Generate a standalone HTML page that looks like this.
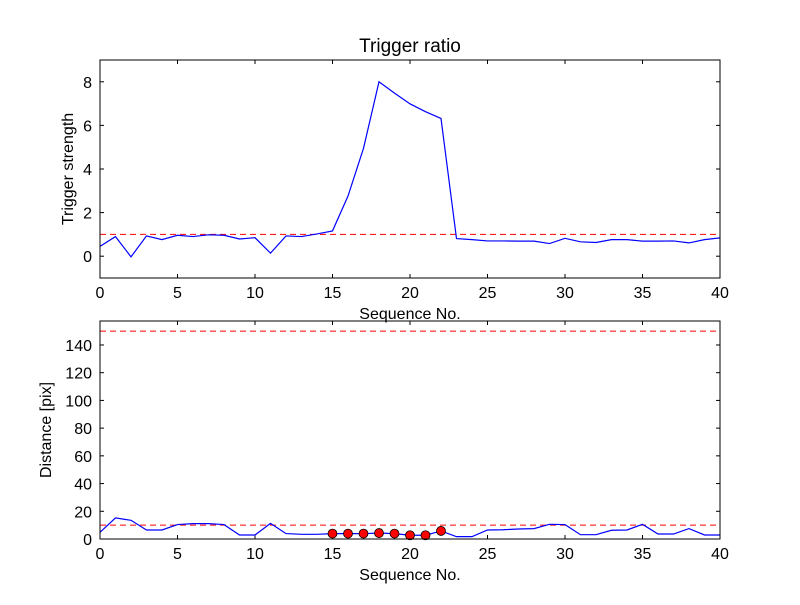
<!DOCTYPE html>
<html><head><meta charset="utf-8"><style>
body{margin:0;background:#fff;}
svg text{font-family:"Liberation Sans",sans-serif;}
</style></head><body>
<svg id="fig" width="800" height="600" viewBox="0 0 800 600">
<rect width="800" height="600" fill="#fff"/>
<g id="top"></g>
<g id="bot"></g>
</svg>
<script>
const seq = Array.from({length:41},(_, i)=>i);
const triggerStrength = [0.45,0.9,-0.03,0.93,0.76,0.96,0.9,0.98,0.96,0.79,0.85,0.14,0.93,0.9,1.02,1.16,2.76,4.95,8.0,7.48,6.99,6.63,6.32,0.81,0.76,0.7,0.7,0.69,0.69,0.58,0.82,0.66,0.63,0.76,0.76,0.69,0.69,0.7,0.61,0.76,0.84];
const triggerThreshold = [1];
const distance = [4.8,15.2,13.5,6.5,6.5,10.4,11.1,11.1,10.4,2.9,2.9,11.3,3.9,3.4,3.4,3.9,3.9,3.9,4.3,3.9,2.7,2.7,5.8,1.7,1.7,6.5,6.7,7.2,7.5,10.6,10.4,3.1,3.1,6.3,6.5,10.6,3.6,3.6,7.5,2.9,2.9];
const distThresholds = [150,10];
const triggeredIdx = [15,16,17,18,19,20,21,22];
const xTicks = [0,5,10,15,20,25,30,35,40];
const yTicksTop = [0,2,4,6,8];
const yTicksBot = [0,20,40,60,80,100,120,140];

const NS="http://www.w3.org/2000/svg";
function mk(parent,tag,attrs,name){const e=document.createElementNS(NS,tag);for(const k in attrs)e.setAttribute(k,attrs[k]);


parent.appendChild(e);return e;}

function axes(g,box,ymin,ymax,yTicks,ylabel,title){
  const [L,T,R,B]=box;
  const sx=v=>L+(v-0)/(40-0)*(R-L);
  const sy=v=>B-(v-ymin)/(ymax-ymin)*(B-T);
  for(const t of xTicks){const x=sx(t);
    mk(g,'line',{x1:x,x2:x,y1:B,y2:B-4,stroke:'#000'},'x-tick');
    mk(g,'line',{x1:x,x2:x,y1:T,y2:T+4,stroke:'#000'},'x-tick');
    const tx=mk(g,'text',{x:x,y:B+20,'text-anchor':'middle','font-size':16},'x-tick-label');tx.textContent=t;}
  for(const t of yTicks){const y=sy(t);
    mk(g,'line',{x1:L,x2:L+4,y1:y,y2:y,stroke:'#000'},'y-tick');
    mk(g,'line',{x1:R,x2:R-4,y1:y,y2:y,stroke:'#000'},'y-tick');
    const tx=mk(g,'text',{x:L-8,y:y+6,'text-anchor':'end','font-size':16},'y-tick-label');tx.textContent=t;}
  const xl=mk(g,'text',{x:(L+R)/2,y:B+41,'text-anchor':'middle','font-size':16},'x-axis-title');xl.textContent='Sequence No.';
  const yl=mk(g,'text',{x:0,y:0,'text-anchor':'middle','font-size':16,transform:`translate(${ylabel[1]},${(T+B)/2}) rotate(-90)`},'y-axis-title');yl.textContent=ylabel[0];
  if(title){const tt=mk(g,'text',{x:(L+R)/2,y:T-8,'text-anchor':'middle','font-size':19},'chart-title');tt.textContent=title;}
  return [sx,sy];
}
function frame(g,box){const [L,T,R,B]=box;mk(g,'rect',{x:L,y:T,width:R-L,height:B-T,fill:'none',stroke:'#000','stroke-width':1},'plot-frame');}

// top
const gt=document.getElementById('top');
const boxT=[100,60,720,278];
const [sxT,syT]=axes(gt,boxT,-1,9,yTicksTop,['Trigger strength',73],'Trigger ratio');
for(const th of triggerThreshold){mk(gt,'line',{x1:100,x2:720,y1:syT(th),y2:syT(th),stroke:'red','stroke-dasharray':'6,4'},'threshold-line');}
mk(gt,'polyline',{points:seq.map((s,i)=>sxT(s)+','+syT(triggerStrength[i])).join(' '),fill:'none',stroke:'blue','stroke-width':1.2},'trigger-strength-line');
frame(gt,boxT);

// bottom
const gb=document.getElementById('bot');
const boxB=[100,321,720,539];
const [sxB,syB]=axes(gb,boxB,0,157.3,yTicksBot,['Distance [pix]',51],null);
for(const th of distThresholds){mk(gb,'line',{x1:100,x2:720,y1:syB(th),y2:syB(th),stroke:'red','stroke-dasharray':'6,4'},'distance-threshold-line');}
mk(gb,'polyline',{points:seq.map((s,i)=>sxB(s)+','+syB(distance[i])).join(' '),fill:'none',stroke:'blue','stroke-width':1.2},'distance-line');
for(const i of triggeredIdx){mk(gb,'circle',{cx:sxB(seq[i]),cy:syB(distance[i]),r:4.5,fill:'red',stroke:'#000','stroke-width':0.8},'triggered-point');}
frame(gb,boxB);
</script>
</body></html>
